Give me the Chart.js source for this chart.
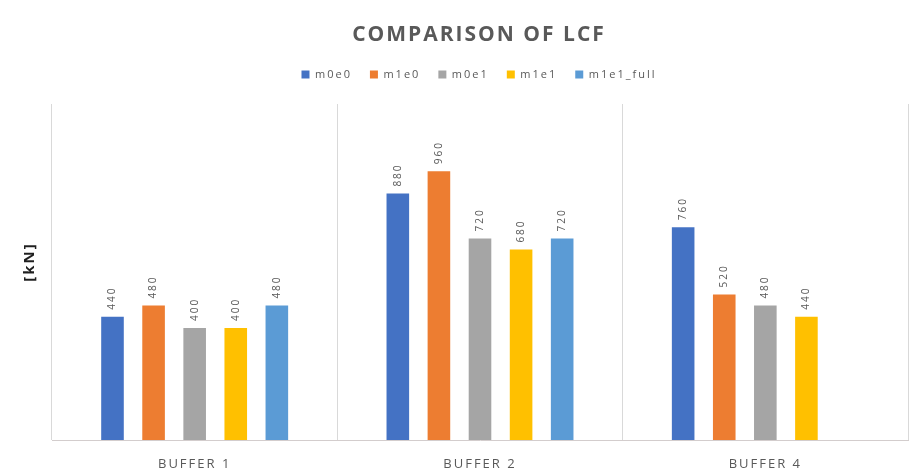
<!DOCTYPE html>
<html lang="en">
<head>
    <meta charset="UTF-8">
    <title>Comparison of LCF</title>
    <script src="https://cdn.jsdelivr.net/npm/chart.js"></script>
    <style>
        body {
            margin: 0;
            background: white;
        }
        .wrap {
            width: 910px;
            height: 468px;
        }
    </style>
</head>
<body>
    <div class="wrap"><canvas id="myChart" width="910" height="468"></canvas></div>
    <script>
        const categories = ['BUFFER 1', 'BUFFER 2', 'BUFFER 4'];
        const m0e0 = [440, 880, 760];
        const m1e0 = [480, 960, 520];
        const m0e1 = [400, 720, 480];
        const m1e1 = [400, 680, 440];
        const m1e1Full = [480, 720, null]; // no bar for buffer 4
        const yTitle = '[kN]';

        const textGrey = '#595959';
        const spacing = '2px'; // the source picture has wide, spaced-out lettering

        // letter spacing has to be set again after every canvas reset
        const wideText = {
            id: 'wideText',
            beforeUpdate(chart) { chart.ctx.letterSpacing = spacing; },
            beforeDraw(chart) { chart.ctx.letterSpacing = spacing; }
        };

        // rotated value labels above each bar + the y axis title
        const valueLabels = {
            id: 'valueLabels',
            afterDatasetsDraw(chart) {
                const ctx = chart.ctx;
                const area = chart.chartArea;
                ctx.save();
                ctx.font = '10px "Open Sans"';
                ctx.fillStyle = textGrey;
                ctx.textAlign = 'left';
                ctx.textBaseline = 'middle';
                chart.data.datasets.forEach((ds, i) => {
                    const meta = chart.getDatasetMeta(i);
                    meta.data.forEach((bar, j) => {
                        const v = ds.data[j];
                        if (v === null) return;
                        ctx.save();
                        ctx.translate(bar.x, bar.y - 7);
                        ctx.rotate(-Math.PI / 2);
                        ctx.fillText(String(v), 0, 0);
                        ctx.restore();
                    });
                });

                ctx.font = 'bold 15px "Open Sans"';
                ctx.fillStyle = '#1f1f1f';
                ctx.textAlign = 'center';
                ctx.translate(area.left - 22, (area.top + area.bottom) / 2 - 10);
                ctx.rotate(-Math.PI / 2);
                ctx.fillText(yTitle, 0, 0);
                ctx.restore();
            }
        };

        const ctx = document.getElementById('myChart').getContext('2d');
        const myChart = new Chart(ctx, {
            type: 'bar',
            data: {
                labels: categories,
                datasets: [
                    { label: 'm0e0', data: m0e0, backgroundColor: '#4472C4' },
                    { label: 'm1e0', data: m1e0, backgroundColor: '#ED7D31' },
                    { label: 'm0e1', data: m0e1, backgroundColor: '#A5A5A5' },
                    { label: 'm1e1', data: m1e1, backgroundColor: '#FFC000' },
                    { label: 'm1e1_full', data: m1e1Full, backgroundColor: '#5B9BD5' }
                ]
            },
            options: {
                responsive: false,
                animation: false,
                categoryPercentage: 0.72,
                barPercentage: 0.55,
                layout: { padding: { left: 50, right: 2, top: 0, bottom: 0 } },
                plugins: {
                    title: {
                        display: true,
                        text: 'COMPARISON OF LCF',
                        color: textGrey,
                        font: { family: 'Open Sans', size: 21, weight: 'bold', lineHeight: 1 },
                        padding: { top: 25, bottom: 5 }
                    },
                    legend: {
                        display: true,
                        labels: {
                            color: textGrey,
                            font: { family: 'Open Sans', size: 11 },
                            boxWidth: 8,
                            boxHeight: 8,
                            padding: 18
                        }
                    },
                    // empty subtitle under the legend, only used as a spacer
                    subtitle: {
                        display: true,
                        text: '',
                        weight: 500,
                        font: { size: 10, lineHeight: 1 },
                        padding: { top: 0, bottom: 4 }
                    },
                    tooltip: { enabled: false }
                },
                scales: {
                    x: {
                        grid: {
                            offset: true,
                            drawTicks: false,
                            color: (c) => c.index === 3 ? 'rgba(0,0,0,0)' : '#d9d9d9'
                        },
                        border: { display: true, color: '#d3cdcd' },
                        ticks: {
                            color: textGrey,
                            font: { family: 'Open Sans', size: 13 },
                            padding: 16
                        },
                        afterFit(scale) { scale.height = 28; }
                    },
                    y: {
                        min: 0,
                        max: 1200,
                        grid: { display: false },
                        border: { display: false },
                        ticks: { display: false },
                        afterFit(scale) { scale.width = 2; }
                    }
                }
            },
            plugins: [wideText, valueLabels]
        });
    </script>
</body>
</html>
